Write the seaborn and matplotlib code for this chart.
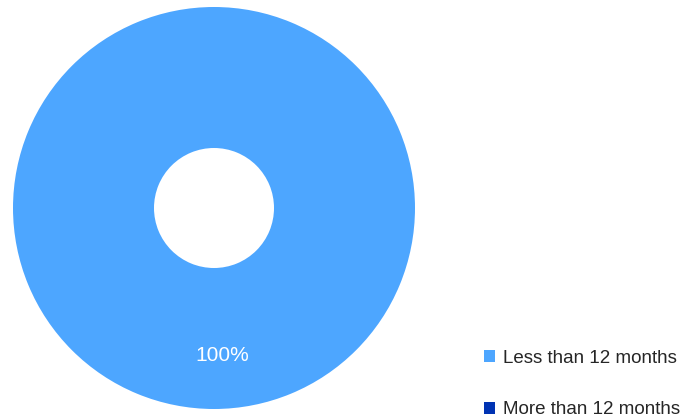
import matplotlib
matplotlib.use("Agg")
import matplotlib.pyplot as plt
import seaborn as sns
from matplotlib.patches import Patch

categories = ["Less than 12 months", "More than 12 months"]
values = [100, 0]
colors = ["#4da6ff", "#0033b3"]

sns.set_theme(style="white")
plt.rcParams["font.family"] = ["Liberation Sans", "DejaVu Sans"]

fig = plt.figure(figsize=(6.8, 4.16), dpi=100)
ax = fig.add_axes([13 / 680, 7 / 416, 402 / 680, 402 / 416])

def fmt(p):
    return f"{p:.0f}%" if p > 0 else ""

wedges, texts, autotexts = ax.pie(
    values, colors=colors, startangle=93, counterclock=True,
    radius=1.0, wedgeprops=dict(width=141 / 201, linewidth=0),
    autopct=fmt, pctdistance=0.737,
    textprops=dict(color="white", fontsize=15),
)
ax.set_aspect("equal")
ax.set_xlim(-1, 1)
ax.set_ylim(-1, 1)
ax.axis("off")

fs = 13.5
handles = [Patch(facecolor=c, edgecolor="none") for c in colors]
fig.legend(handles, categories, loc="center left", bbox_to_anchor=(476.5 / 680, 1 - 384 / 416),
           frameon=False, fontsize=fs, handlelength=0.59, handleheight=0.59,
           handletextpad=0.43, labelspacing=1.86, borderaxespad=0)

fig.savefig("out.png", dpi=100)
